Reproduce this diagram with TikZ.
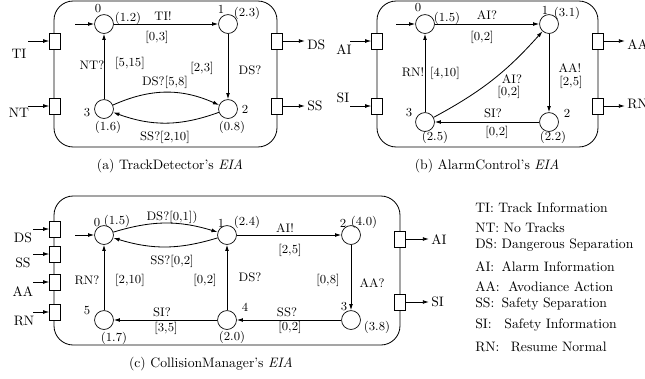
\documentclass[tikz,border=0pt]{standalone}
\usepackage{tikz}
\usepackage{amsmath, amssymb}
\usetikzlibrary{positioning, calc, arrows.meta}
\definecolor{Dark}{HTML}{000000}
\tikzset{
    statenode/.style={circle, draw=Dark, line width=0.5pt, minimum size=13.8pt, inner sep=0pt},
    portbox/.style={rectangle, draw=Dark, fill=white, line width=0.6pt, minimum width=7.6pt, minimum height=11.6pt, inner sep=0pt},
    arrow/.style={-{Latex[length=4.5pt, width=2.8pt]}, line width=0.6pt, color=Dark},
    tag/.style={font=\small, text=Dark, inner sep=0pt},
    caption/.style={font=\normalsize, text=Dark, inner sep=0pt},
    frame/.style={draw=Dark, line width=0.6pt, rounded corners=14pt},
}

\begin{document}
\begin{tikzpicture}[x=0.73pt, y=-0.73pt]
    \useasboundingbox (0,0) rectangle (645,378);

    % (a) Cornice e porte
    \draw[frame] (54,1) rectangle (277,147);
    \node[portbox] (aTI) at (55,41) {};
    \node[portbox] (aNT) at (55,106) {};
    \node[portbox] (aDS) at (277,41) {};
    \node[portbox] (aSS) at (277,106) {};
    \coordinate (aTIin) at (28,41);
    \coordinate (aNTin) at (28,106);
    \coordinate (aDSout) at (305,41);
    \coordinate (aSSout) at (305,106);
    \draw[arrow] (aTIin) -- (aTI);
    \draw[arrow] (aNTin) -- (aNT);
    \draw[arrow] (aDS) -- (aDSout);
    \draw[arrow] (aSS) -- (aSSout);
    \node[caption] (pTI) at (19,54) {TI};
    \node[caption] (pNT) at (19,113) {NT};
    \node[caption, anchor=west] (pDS) at (307,45) {DS};
    \node[caption, anchor=west] (pSS) at (307,106) {SS};

    % (a) Stati
    \node[statenode] (a0) at (104,24) {};
    \node[statenode] (a1) at (228,24) {};
    \node[statenode] (a2) at (228,109) {};
    \node[statenode] (a3) at (104,109) {};
    \coordinate (a0in) at (75,24);

    % (a) Transizioni
    \draw[arrow] (a0in) -- (a0);
    \draw[arrow] (a0) -- (a1);
    \draw[arrow] (a1) -- (a2);
    \draw[arrow] (a3) -- (a0);
    \draw[arrow] (a3) to[bend left=24] (a2);
    \draw[arrow] (a2) to[bend left=20] (a3);

    \node[tag] (ta0) at (98,9) {0};
    \node[tag] (ta0c) at (128,18) {(1.2)};
    \node[tag] (ta1) at (221,9) {1};
    \node[tag] (ta1c) at (247,13) {(2.3)};
    \node[tag] (ta2) at (245,109) {2};
    \node[tag] (ta2c) at (232,127) {(0.8)};
    \node[tag] (ta3) at (87,113) {3};
    \node[tag] (ta3c) at (108,127) {(1.6)};
    \node[tag] (tTI) at (163,16) {TI!};
    \node[tag] (tTIg) at (157,37) {[0,3]};
    \node[tag] (tNT) at (92,65) {NT?};
    \node[tag] (tNTg) at (130,63) {[5,15]};
    \node[tag] (tDSg) at (202,68) {[2,3]};
    \node[tag] (tDS) at (250,70) {DS?};
    \node[tag] (tDSb) at (165,82) {DS?[5,8]};
    \node[tag] (tSSb) at (165,137) {SS?[2,10]};

    \node[caption] (capA) at (170,166) {(a) TrackDetector's \textit{EIA}};

    % (b) Cornice e porte
    \draw[frame] (377,1) rectangle (598,147);
    \node[portbox] (bAI) at (377,41) {};
    \node[portbox] (bSI) at (377,106) {};
    \node[portbox] (bAA) at (598,41) {};
    \node[portbox] (bRN) at (598,106) {};
    \coordinate (bAIin) at (350,41);
    \coordinate (bSIin) at (350,106);
    \coordinate (bAAout) at (625,41);
    \coordinate (bRNout) at (625,106);
    \draw[arrow] (bAIin) -- (bAI);
    \draw[arrow] (bSIin) -- (bSI);
    \draw[arrow] (bAA) -- (bAAout);
    \draw[arrow] (bRN) -- (bRNout);
    \node[caption] (pAI) at (344,50) {AI};
    \node[caption] (pSI) at (343,98) {SI};
    \node[caption, anchor=west] (pAA) at (627,45) {AA};
    \node[caption, anchor=west] (pRN) at (627,104) {RN};

    % (b) Stati
    \node[statenode] (b0) at (425,24) {};
    \node[statenode] (b1) at (549,24) {};
    \node[statenode] (b2) at (549,122) {};
    \node[statenode] (b3) at (425,122) {};
    \coordinate (b0in) at (396,24);

    % (b) Transizioni
    \draw[arrow] (b0in) -- (b0);
    \draw[arrow] (b0) -- (b1);
    \draw[arrow] (b1) -- (b2);
    \draw[arrow] (b2) -- (b3);
    \draw[arrow] (b3) -- (b0);
    \draw[arrow] (b3) to[bend right=10] (b1);

    \node[tag] (tb0) at (418,8) {0};
    \node[tag] (tb0c) at (447,18) {(1.5)};
    \node[tag] (tb1) at (545,10) {1};
    \node[tag] (tb1c) at (567,13) {(3.1)};
    \node[tag] (tb2) at (567,113) {2};
    \node[tag] (tb2c) at (553,137) {(2.2)};
    \node[tag] (tb3) at (409,113) {3};
    \node[tag] (tb3c) at (435,137) {(2.5)};
    \node[tag] (tAI) at (487,15) {AI?};
    \node[tag] (tAIg) at (482,37) {[0,2]};
    \node[tag] (tRN) at (413,72) {RN!};
    \node[tag] (tRNg) at (445,73) {[4,10]};
    \node[tag] (tAIc) at (512,79) {AI?};
    \node[tag] (tAIcg) at (509,92) {[0,2]};
    \node[tag] (tAA) at (570,68) {AA!};
    \node[tag] (tAAg) at (571,82) {[2,5]};
    \node[tag] (tSI) at (493,113) {SI?};
    \node[tag] (tSIg) at (497,132) {[0,2]};

    \node[caption] (capB) at (487,166) {(b) AlarmControl's \textit{EIA}};

    % (c) Cornice e porte
    \draw[frame] (54,196) rectangle (400,345);
    \node[portbox] (cDS) at (55,229) {};
    \node[portbox] (cSS) at (55,254) {};
    \node[portbox] (cAA) at (55,282) {};
    \node[portbox] (cRN) at (55,312) {};
    \node[portbox] (cAI) at (400,239) {};
    \node[portbox] (cSI) at (400,302) {};
    \coordinate (cDSin) at (33,229);
    \coordinate (cSSin) at (33,254);
    \coordinate (cAAin) at (33,282);
    \coordinate (cRNin) at (33,312);
    \coordinate (cAIout) at (429,239);
    \coordinate (cSIout) at (429,302);
    \draw[arrow] (cDSin) -- (cDS);
    \draw[arrow] (cSSin) -- (cSS);
    \draw[arrow] (cAAin) -- (cAA);
    \draw[arrow] (cRNin) -- (cRN);
    \draw[arrow] (cAI) -- (cAIout);
    \draw[arrow] (cSI) -- (cSIout);
    \node[caption] (qDS) at (23,238) {DS};
    \node[caption] (qSS) at (23,263) {SS};
    \node[caption] (qAA) at (23,292) {AA};
    \node[caption] (qRN) at (24,321) {RN};
    \node[caption, anchor=west] (qAI) at (431,240) {AI};
    \node[caption, anchor=west] (qSI) at (431,302) {SI};

    % (c) Stati
    \node[statenode] (c0) at (104,235) {};
    \node[statenode] (c1) at (227,235) {};
    \node[statenode] (c2) at (351,235) {};
    \node[statenode] (c3) at (351,320) {};
    \node[statenode] (c4) at (227,320) {};
    \node[statenode] (c5) at (104,320) {};
    \coordinate (c0in) at (75,235);

    % (c) Transizioni
    \draw[arrow] (c0in) -- (c0);
    \draw[arrow] (c0) to[bend left=17] (c1);
    \draw[arrow] (c1) to[bend left=17] (c0);
    \draw[arrow] (c1) -- (c2);
    \draw[arrow] (c2) -- (c3);
    \draw[arrow] (c3) -- (c4);
    \draw[arrow] (c4) -- (c1);
    \draw[arrow] (c4) -- (c5);
    \draw[arrow] (c5) -- (c0);

    \node[tag] (tc0) at (97,223) {0};
    \node[tag] (tc0c) at (117,221) {(1.5)};
    \node[tag] (tc1) at (221,223) {1};
    \node[tag] (tc1c) at (247,222) {(2.4)};
    \node[tag] (tc2) at (343,223) {2};
    \node[tag] (tc2c) at (364,222) {(4.0)};
    \node[tag] (tc3) at (344,307) {3};
    \node[tag] (tc3c) at (377,327) {(3.8)};
    \node[tag] (tc4) at (245,307) {4};
    \node[tag] (tc4c) at (232,337) {(2.0)};
    \node[tag] (tc5) at (87,311) {5};
    \node[tag] (tc5c) at (114,338) {(1.7)};
    \node[tag] (tDSc) at (172,217) {DS?[0,1])};
    \node[tag] (tSSc) at (172,261) {SS?[0,2]};
    \node[tag] (tAIx) at (285,228) {AI!};
    \node[tag] (tAIxg) at (290,250) {[2,5]};
    \node[tag] (tRNc) at (87,280) {RN?};
    \node[tag] (tRNcg) at (130,280) {[2,10]};
    \node[tag] (tDSu) at (250,277) {DS?};
    \node[tag] (tDSug) at (205,280) {[0,2]};
    \node[tag] (tAAc) at (372,283) {AA?};
    \node[tag] (tAAcg) at (328,280) {[0,8]};
    \node[tag] (tSIc) at (162,312) {SI?};
    \node[tag] (tSIcg) at (166,328) {[3,5]};
    \node[tag] (tSSd) at (287,312) {SS?};
    \node[tag] (tSSdg) at (290,327) {[0,2]};

    \node[caption] (capC) at (211,364) {(c) CollisionManager's \textit{EIA}};

    % Legenda
    \node[caption, anchor=west] (kTI) at (475,208) {TI: Track Information};
    \node[caption, anchor=west] (kNT) at (475,228) {NT: No Tracks};
    \node[caption, anchor=west] (kDS) at (475,245) {DS: Dangerous Separation};
    \node[caption, anchor=west] (kAI) at (475,267) {AI:\hspace{2pt} Alarm Information};
    \node[caption, anchor=west] (kAA) at (475,287) {AA:\hspace{3pt} Avodiance Action};
    \node[caption, anchor=west] (kSS) at (475,304) {SS:\hspace{2pt} Safety Separation};
    \node[caption, anchor=west] (kSI) at (475,325) {SI:\hspace{6pt} Safety Information};
    \node[caption, anchor=west] (kRN) at (475,347) {RN:\hspace{5pt} Resume Normal};
\end{tikzpicture}
\end{document}
